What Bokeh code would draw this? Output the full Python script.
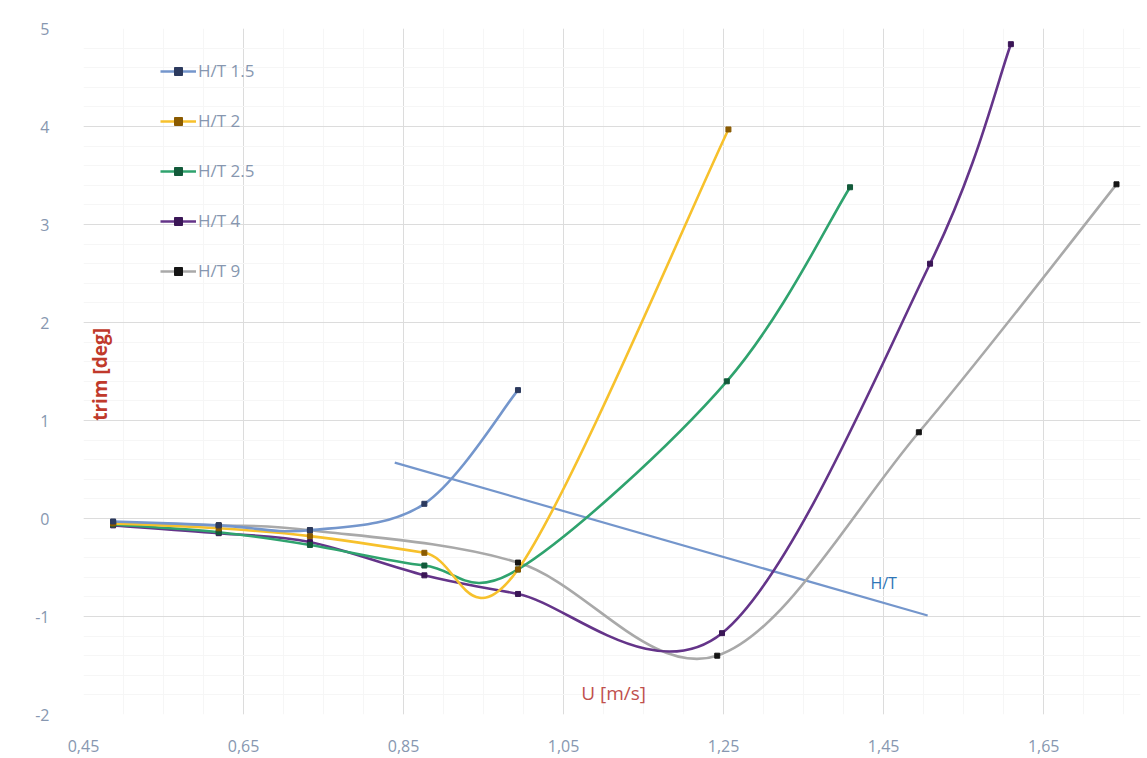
import math
from bokeh.plotting import figure
from bokeh.models import (ColumnDataSource, FixedTicker, CustomJSTickFormatter, Legend,
                          LegendItem, Label, Range1d)
from bokeh.embed import file_html
from bokeh.resources import INLINE

# ---------------- data ----------------
u_15 = [0.487, 0.619, 0.733, 0.876, 0.993]
t_15 = [-0.03, -0.07, -0.12, 0.15, 1.31]

u_2 = [0.487, 0.619, 0.733, 0.876, 0.993, 1.256]
t_2 = [-0.05, -0.10, -0.18, -0.35, -0.52, 3.97]

u_25 = [0.487, 0.619, 0.733, 0.876, 0.993, 1.254, 1.408]
t_25 = [-0.06, -0.14, -0.27, -0.48, -0.52, 1.40, 3.38]

u_4 = [0.487, 0.619, 0.733, 0.876, 0.993, 1.248, 1.508, 1.609]
t_4 = [-0.07, -0.15, -0.24, -0.58, -0.77, -1.17, 2.60, 4.84]

u_9 = [0.487, 0.619, 0.733, 0.993, 1.242, 1.494, 1.741]
t_9 = [-0.04, -0.07, -0.12, -0.45, -1.40, 0.88, 3.41]

ht_u = [0.839, 1.505]
ht_t = [0.57, -0.99]

series_names = ["H/T 1.5", "H/T 2", "H/T 2.5", "H/T 4", "H/T 9"]
x_ticks = [0.45, 0.65, 0.85, 1.05, 1.25, 1.45, 1.65]
y_ticks = [-2, -1, 0, 1, 2, 3, 4, 5]

# ---------------- styling ----------------
line_colors = ["#7496cc", "#f7c12c", "#2fa36e", "#643489", "#a9a9a9"]
marker_colors = ["#2c3a5e", "#8a5a00", "#125a3a", "#3a1656", "#151515"]
TXT = "#8797b0"
FONT = "Open Sans"

p = figure(width=1147, height=758, output_backend="svg", toolbar_location=None,
           x_range=Range1d(0.45, 1.771), y_range=Range1d(-2, 5))
p.min_border_left = 83
p.min_border_right = 7
p.min_border_top = 28
p.min_border_bottom = 44
p.outline_line_color = None
p.background_fill_color = "white"
p.border_fill_color = "white"

minor_x = [round(0.45 + 0.05 * i, 3) for i in range(0, 27)]
minor_y = [round(-2 + 0.2 * i, 2) for i in range(0, 36)]
p.xaxis.ticker = FixedTicker(ticks=x_ticks, minor_ticks=minor_x)
p.yaxis.ticker = FixedTicker(ticks=y_ticks, minor_ticks=minor_y)
p.xaxis.formatter = CustomJSTickFormatter(code="return tick.toFixed(2).replace('.', ',');")
p.yaxis.formatter = CustomJSTickFormatter(code="return String(Math.round(tick));")

for ax in (p.xaxis, p.yaxis):
    ax.axis_line_color = None
    ax.major_tick_line_color = None
    ax.minor_tick_line_color = None
    ax.major_label_text_color = TXT
    ax.major_label_text_font = FONT
    ax.major_label_text_font_size = "16px"
p.xaxis.major_label_standoff = 19
p.yaxis.major_label_standoff = 28

p.xgrid.grid_line_color = "#dcdcdc"
p.ygrid.grid_line_color = "#dcdcdc"
p.xgrid.minor_grid_line_color = "#f6f6f6"
p.ygrid.minor_grid_line_color = "#f6f6f6"
p.xgrid.grid_line_width = 1
p.ygrid.grid_line_width = 1


def smooth_segments(xs, ys, k=6.0):
    """Cubic Bezier segments through the points (Catmull-Rom style smoothing, as in the
    original spreadsheet's smoothed lines)."""
    n = len(xs)
    d = dict(x0=[], y0=[], x1=[], y1=[], cx0=[], cy0=[], cx1=[], cy1=[])
    for i in range(n - 1):
        i0 = max(i - 1, 0)
        i3 = min(i + 2, n - 1)
        d["x0"].append(xs[i]); d["y0"].append(ys[i])
        d["x1"].append(xs[i + 1]); d["y1"].append(ys[i + 1])
        d["cx0"].append(xs[i] + (xs[i + 1] - xs[i0]) / k)
        d["cy0"].append(ys[i] + (ys[i + 1] - ys[i0]) / k)
        d["cx1"].append(xs[i + 1] - (xs[i3] - xs[i]) / k)
        d["cy1"].append(ys[i + 1] - (ys[i3] - ys[i]) / k)
    return ColumnDataSource(d)


all_u = [u_15, u_2, u_25, u_4, u_9]
all_t = [t_15, t_2, t_25, t_4, t_9]

# H/T trend line
p.line(ht_u, ht_t, line_color="#7496cc", line_width=2.2)

items = []
draw_order = [4, 3, 2, 1, 0]
scat = {}
for idx in draw_order:
    src = smooth_segments(all_u[idx], all_t[idx])
    p.bezier(x0="x0", y0="y0", x1="x1", y1="y1", cx0="cx0", cy0="cy0", cx1="cx1", cy1="cy1",
             source=src, line_color=line_colors[idx], line_width=2.6)
for idx in draw_order:
    scat[idx] = p.scatter(all_u[idx], all_t[idx], marker="square", size=5,
                          fill_color=marker_colors[idx], line_color=marker_colors[idx])

nan = float("nan")
for idx, name in enumerate(series_names):
    proxy = p.line(x=[nan, nan], y=[nan, nan], line_color=line_colors[idx], line_width=2.6)
    items.append(LegendItem(label=name, renderers=[proxy, scat[idx]]))

legend = Legend(items=items, location=(77, 432))
legend.background_fill_alpha = 0
legend.border_line_color = None
legend.padding = 0
legend.margin = 0
legend.spacing = 27
legend.label_height = 20
legend.glyph_height = 20
legend.glyph_width = 36
legend.label_standoff = 2
legend.label_text_color = TXT
legend.label_text_font = FONT
legend.label_text_font_size = "17px"
p.add_layout(legend)

p.add_layout(Label(x=0.471, y=1.47, text="trim [deg]", angle=math.pi / 2,
                   text_align="center", text_baseline="middle",
                   text_color="#c0392b", text_font=FONT, text_font_size="19px",
                   text_font_style="bold"))
p.add_layout(Label(x=1.1125, y=-1.78, text="U [m/s]", text_align="center",
                   text_baseline="middle", text_color="#c0504d", text_font=FONT,
                   text_font_size="19px"))
p.add_layout(Label(x=1.45, y=-0.66, text="H/T", text_align="center",
                   text_baseline="middle", text_color="#2e75b6", text_font=FONT,
                   text_font_size="16px"))

open("out.html", "w").write(file_html(p, INLINE))
